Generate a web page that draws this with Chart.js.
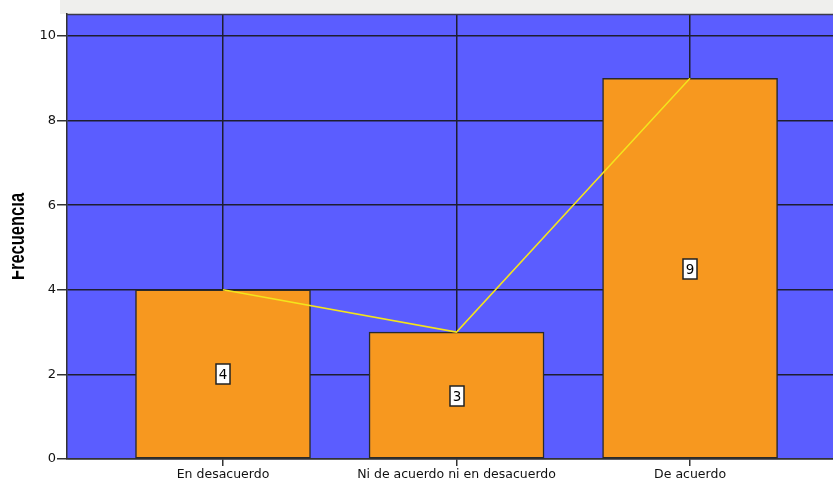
<!DOCTYPE html>
<html>
<head>
<meta charset="utf-8">
<script src="https://cdn.jsdelivr.net/npm/chart.js@4/dist/chart.umd.min.js"></script>
<style>
  html, body { margin: 0; padding: 0; background: #ffffff; overflow: hidden; }
  #wrap { position: relative; width: 833px; height: 481px; }
</style>
</head>
<body>
<div id="wrap"><canvas id="c" width="833" height="481"></canvas></div>
<script>
const categories = ["En desacuerdo", "Ni de acuerdo ni en desacuerdo", "De acuerdo"];
const frecuencia = [4, 3, 9];
const yTicks = [0, 2, 4, 6, 8, 10];
const yTitle = "Frecuencia";

const positions = categories.map((c, i) => i + 1);
const barPoints = positions.map((p, i) => ({ x: p, y: frecuencia[i] }));

const plotBg = {
  id: 'plotBg',
  beforeDraw(chart) {
    const { ctx, chartArea: a } = chart;
    ctx.save();
    ctx.fillStyle = '#efefed';
    ctx.fillRect(60, 0, chart.width - 60, a.top);
    ctx.fillStyle = '#5b5dff';
    ctx.fillRect(a.left, a.top, a.right - a.left, a.bottom - a.top);
    ctx.restore();
  },
  afterDraw(chart) {
    const { ctx, chartArea: a } = chart;
    ctx.save();
    ctx.strokeStyle = '#3a3a4a';
    ctx.lineWidth = 1.5;
    ctx.beginPath();
    ctx.moveTo(a.left, a.top + 0.5);
    ctx.lineTo(a.right, a.top + 0.5);
    ctx.stroke();
    ctx.restore();
    // y axis title (left edge clipped as in the reference)
    ctx.save();
    ctx.beginPath();
    ctx.rect(12, 0, 60, chart.height);
    ctx.clip();
    ctx.translate(18, (a.top + a.bottom) / 2);
    ctx.scale(1.3, 1);
    ctx.rotate(-Math.PI / 2);
    ctx.fillStyle = '#000';
    ctx.font = 'bold 16.5px "Liberation Sans", Arial, sans-serif';
    ctx.textAlign = 'center';
    ctx.textBaseline = 'middle';
    ctx.fillText(yTitle, 0, 0);
    ctx.restore();
  }
};

const valueBoxes = {
  id: 'valueBoxes',
  afterDatasetsDraw(chart) {
    const { ctx } = chart;
    const meta = chart.getDatasetMeta(1);
    const ys = chart.scales.y;
    ctx.save();
    ctx.font = '13.5px "DejaVu Sans", sans-serif';
    ctx.textAlign = 'center';
    ctx.textBaseline = 'middle';
    meta.data.forEach((bar, i) => {
      const v = frecuencia[i];
      const cx = Math.round(bar.x);
      const cy = Math.round(ys.getPixelForValue(v / 2));
      const w = 14, h = 20;
      ctx.fillStyle = '#ffffff';
      ctx.fillRect(cx - w / 2, cy - h / 2, w, h);
      ctx.strokeStyle = '#222';
      ctx.lineWidth = 1.5;
      ctx.strokeRect(cx - w / 2, cy - h / 2, w, h);
      ctx.fillStyle = '#000';
      ctx.fillText(String(v), cx, cy + 1);
    });
    ctx.restore();
  }
};

new Chart(document.getElementById('c'), {
  type: 'bar',
  data: {
    datasets: [
      {
        type: 'line',
        data: barPoints,
        borderColor: '#f4e41c',
        borderWidth: 1.5,
        pointRadius: 0,
        fill: false,
        tension: 0,
        order: 0
      },
      {
        type: 'bar',
        data: barPoints,
        backgroundColor: '#f7981f',
        borderColor: '#2a2a2a',
        borderWidth: 1.5,
        borderSkipped: false,
        barThickness: 175,
        order: 1
      }
    ]
  },
  options: {
    responsive: false,
    animation: false,
    events: [],
    layout: { padding: { top: 14, left: 0, right: 0, bottom: 0 } },
    plugins: { legend: { display: false }, tooltip: { enabled: false }, title: { display: false } },
    scales: {
      x: {
        type: 'linear',
        offset: false,
        min: 0.332,
        max: 3.612,
        afterBuildTicks(scale) { scale.ticks = positions.map(p => ({ value: p })); },
        afterFit(scale) { scale.height = 22; },
        grid: { offset: false, color: '#1e1e30', lineWidth: 1.5, tickLength: 7, tickColor: '#333', drawOnChartArea: true },
        border: { display: true, color: '#333', width: 1.5 },
        ticks: {
          autoSkip: false,
          maxRotation: 0,
          padding: 1,
          color: '#111',
          font: { family: '"DejaVu Sans", sans-serif', size: 12.5 },
          callback: (v) => categories[Math.round(v) - 1] || ''
        }
      },
      y: {
        min: 0,
        max: 10.52,
        afterBuildTicks(scale) { scale.ticks = yTicks.map(v => ({ value: v })); },
        afterFit(scale) { scale.width = 67; },
        grid: { color: '#1e1e30', lineWidth: 1.5, tickLength: 10, tickColor: '#333' },
        border: { display: true, color: '#333', width: 1.5 },
        ticks: {
          padding: 1,
          color: '#111',
          font: { family: '"DejaVu Sans", sans-serif', size: 13 }
        }
      }
    }
  },
  plugins: [plotBg, valueBoxes]
});
</script>
</body>
</html>
